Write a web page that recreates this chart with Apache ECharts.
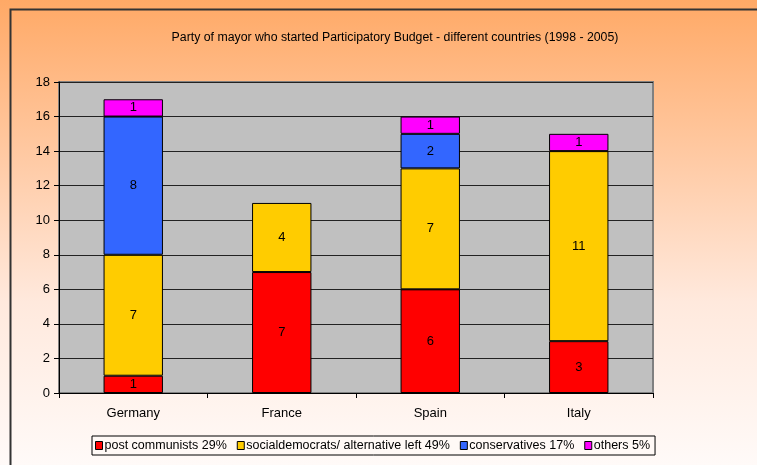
<!DOCTYPE html>
<html><head><meta charset="utf-8">
<script src="https://cdn.jsdelivr.net/npm/echarts@6/dist/echarts.min.js"></script>
<style>html,body{margin:0;padding:0;}#c{width:757px;height:465px;}</style>
</head><body><div id="c"></div>
<script>
const categories = ['Germany', 'France', 'Spain', 'Italy'];
const postCommunists = [1, 7, 6, 3];
const socialDemocrats = [7, 4, 7, 11];
const conservatives = [8, 0, 2, 0];
const others = [1, 0, 1, 1];
const seriesNames = ['post communists 29%', 'socialdemocrats/ alternative left 49%', 'conservatives 17%', 'others 5%'];
const titleText = 'Party of mayor who started Participatory Budget - different countries (1998 - 2005)';

const FONT = '"Liberation Sans", Arial, sans-serif';
const colors = ['#ff0000', '#ffcc00', '#3366ff', '#ff00ff'];
const dataSets = [postCommunists, socialDemocrats, conservatives, others];

const chart = echarts.init(document.getElementById('c'));
chart.setOption({
  backgroundColor: {
    type: 'linear', x: 0, y: 0, x2: 0, y2: 1,
    colorStops: [
      { offset: 0, color: '#ffa966' },
      { offset: 0.35, color: '#ffcba6' },
      { offset: 0.65, color: '#ffe9dd' },
      { offset: 1, color: '#fffaf8' }
    ]
  },
  animation: false,
  graphic: [{
    type: 'rect', z: -1, silent: true,
    shape: { x: 10.5, y: 9.5, width: 800, height: 500 },
    style: { fill: 'transparent', stroke: '#333', lineWidth: 2 }
  }],
  title: {
    text: titleText, left: 390, top: 27, textAlign: 'center',
    textStyle: { fontFamily: FONT, fontSize: 12.3, fontWeight: 'normal', color: '#000' }
  },
  legend: {
    data: seriesNames.map((n, i) => ({ name: n, itemStyle: { color: colors[i], borderColor: '#000', borderWidth: 1 } })),
    left: 92, top: 436, width: 720,
    padding: [3, 5, 3, 3],
    borderColor: '#000', borderWidth: 1, backgroundColor: '#fff9f6',
    itemWidth: 7, itemHeight: 8, itemGap: 10,
    icon: 'rect',
    textStyle: { fontFamily: FONT, fontSize: 12.5, color: '#000', padding: [0, 0, 0, -3] }
  },
  grid: { left: 59, right: 104, top: 82, bottom: 72, show: true, backgroundColor: '#c0c0c0', borderColor: '#808080', borderWidth: 2 },
  xAxis: {
    type: 'category', data: categories,
    axisLine: { lineStyle: { color: '#000', width: 1 } },
    axisTick: { show: true, length: 5, inside: false, lineStyle: { color: '#000' } },
    axisLabel: { fontFamily: FONT, fontSize: 13, color: '#000', margin: 14 }
  },
  yAxis: {
    type: 'value', min: 0, max: 18, interval: 2,
    axisLine: { show: true, lineStyle: { color: '#000', width: 1 } },
    axisTick: { show: true, length: 5, lineStyle: { color: '#000' } },
    axisLabel: { fontFamily: FONT, fontSize: 13, color: '#000', margin: 9 },
    splitLine: { lineStyle: { color: '#222', width: 1 } }
  },
  series: dataSets.map((d, i) => ({
    name: seriesNames[i], type: 'bar', stack: 'total', barWidth: '40%',
    data: d.map(v => v === 0 ? null : v),
    itemStyle: { color: colors[i], borderColor: '#000', borderWidth: 1 },
    label: { show: true, position: 'inside', fontFamily: FONT, fontSize: 13, color: '#000' }
  }))
});
</script></body></html>
